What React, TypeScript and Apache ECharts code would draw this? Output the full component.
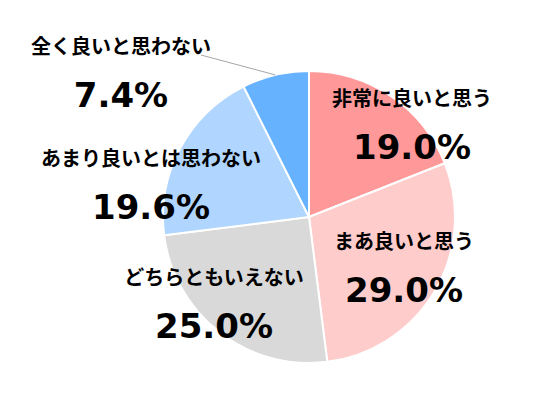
import React, { useEffect, useRef } from "react";
import * as echarts from "echarts";

const categories = [
  "非常に良いと思う",
  "まあ良いと思う",
  "どちらともいえない",
  "あまり良いとは思わない",
  "全く良いと思わない",
];
const values = [19.0, 29.0, 25.0, 19.6, 7.4];
const colors = ["#FF9999", "#FFCCCC", "#D9D9D9", "#B0D5FF", "#66B2FF"];

const CX = 309;
const CY = 217;
const R = 146;

// label block centres (name + value block), in px
const labelCenters: [number, number][] = [
  [412, 125],
  [404, 268],
  [214, 304],
  [151, 185],
  [121, 73],
];
const leaderIndex = 4;
const leaderEnd: [number, number] = [201, 55];

function edgePoint(idx: number): [number, number] {
  const total = values.reduce((a, b) => a + b, 0);
  let cum = 0;
  for (let i = 0; i < idx; i++) cum += values[i];
  const theta = ((cum + values[idx] / 2) / total) * Math.PI * 2;
  return [CX + R * Math.sin(theta), CY - R * Math.cos(theta)];
}

export default function App() {
  const ref = useRef<HTMLDivElement>(null);
  useEffect(() => {
    document.body.style.margin = "0";
    const chart = echarts.init(ref.current!, null, { renderer: "svg" });
    const p0 = edgePoint(leaderIndex);
    chart.setOption({
      animation: false,
      backgroundColor: "#ffffff",
      graphic: [
        {
          type: "line",
          z: 10,
          shape: { x1: p0[0], y1: p0[1], x2: leaderEnd[0], y2: leaderEnd[1] },
          style: { stroke: "#A6A6A6", lineWidth: 1 },
        },
      ],
      series: [
        {
          type: "pie",
          center: [CX, CY],
          radius: R,
          startAngle: 90,
          clockwise: true,
          avoidLabelOverlap: false,
          itemStyle: { borderColor: "#ffffff", borderWidth: 2 },
          label: {
            show: true,
            position: "inside",
            formatter: (p: any) => `{n|${p.name}}\n{v|${p.value.toFixed(1)}%}`,
            rich: {
              n: {
                fontFamily: "Noto Sans CJK JP",
                fontWeight: "bold",
                fontSize: 20,
                lineHeight: 44,
                color: "#000000",
                align: "center",
              },
              v: {
                fontFamily: "DejaVu Sans",
                fontWeight: "bold",
                fontSize: 34,
                lineHeight: 56,
                color: "#000000",
                align: "center",
              },
            },
          },
          labelLine: { show: false },
          labelLayout: (params: any) => {
            const c = labelCenters[params.dataIndex];
            return {
              x: c[0],
              y: c[1],
              align: "center",
              verticalAlign: "middle",
            };
          },
          data: categories.map((name, i) => ({
            name,
            value: values[i],
            itemStyle: { color: colors[i] },
          })),
        },
      ],
    });
    return () => chart.dispose();
  }, []);
  return <div ref={ref} style={{ width: 536, height: 398 }} />;
}
